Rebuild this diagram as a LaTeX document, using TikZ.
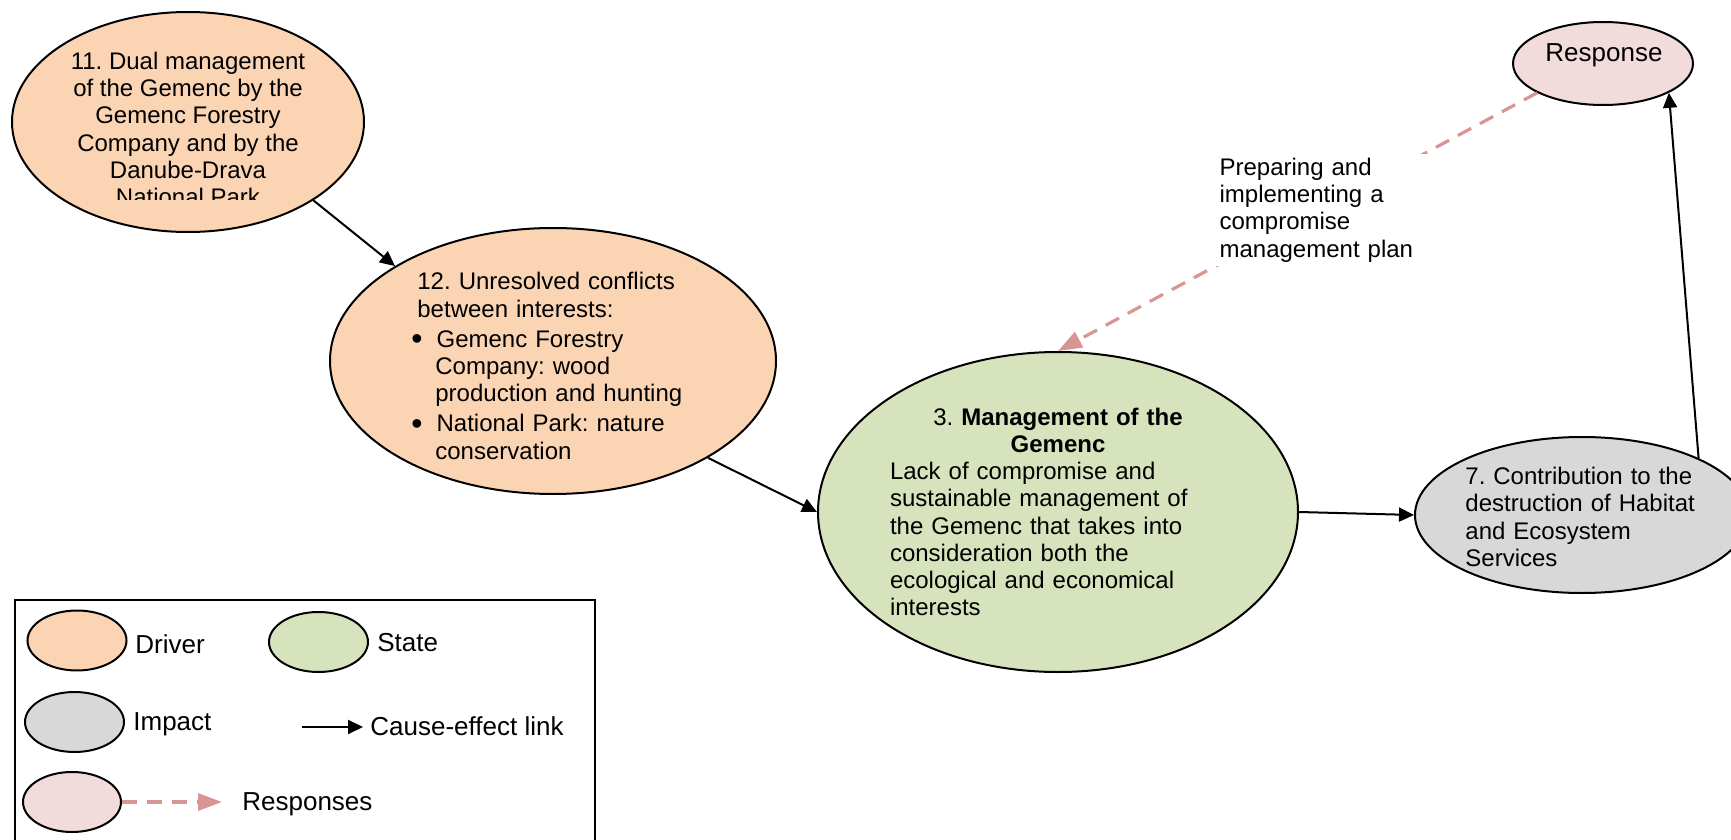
\documentclass[tikz,border=0pt]{standalone}
\usepackage{fontspec}
\setmainfont{Liberation Sans}
\usepackage{xcolor}
\usepackage{enumitem}
\usepackage{tikz}
\usetikzlibrary{positioning, arrows.meta, calc, shapes.geometric}
\definecolor{driverfill}{HTML}{FBD4B4}
\definecolor{statefill}{HTML}{D6E3BC}
\definecolor{impactfill}{HTML}{D8D8D8}
\definecolor{respfill}{HTML}{F2DBDB}
\definecolor{respline}{HTML}{D99594}
\frenchspacing

\tikzset{
    blob/.style={ellipse, draw, line width=1pt, inner sep=0pt},
    drivernode/.style={blob, fill=driverfill},
    statenode/.style={blob, fill=statefill},
    impactnode/.style={blob, fill=impactfill},
    responsenode/.style={blob, fill=respfill},
    body/.style={font=\fontsize{12}{13.6}\selectfont, inner sep=0pt},
    keytext/.style={font=\fontsize{13}{15}\selectfont, inner sep=0pt, anchor=base west},
    causes/.style={line width=1pt, -{Triangle[length=7.5pt, width=7pt]}},
    answers/.style={draw=respline, line width=1.6pt, dash pattern=on 7.5pt off 5pt,
        -{Triangle[length=12pt, width=8.5pt, fill=respline]}},
}

\begin{document}
\begin{tikzpicture}[x=0.5pt, y=-0.5pt]
    \useasboundingbox (0,0) rectangle (1731,840);

    % drivers
    \node[drivernode, minimum width=176pt, minimum height=110pt] (dual) at (188,122) {};
    \begin{scope}
        \clip (0,0) rectangle (400,200);
        \node[body, align=center] (dualtxt) at (188,129) {11. Dual management\\of the Gemenc by the\\Gemenc Forestry\\Company and by the\\Danube-Drava\\National Park};
    \end{scope}

    \node[drivernode, minimum width=223pt, minimum height=133pt] (conflict) at (553,361) {};
    \node[body, text width=140pt, align=left, anchor=west] (conflicttxt) at (411,366) {%
        \hspace*{3pt}12. Unresolved conflicts\\
        \hspace*{3pt}between interests:
        \begin{itemize}[label={\raisebox{-1.2pt}{\fontsize{16}{16}\selectfont\textbullet}}, leftmargin=12pt,
                        labelwidth=5pt, labelsep=7pt, align=left, topsep=1.5pt, itemsep=1.5pt, parsep=0pt,
                        partopsep=0pt]
            \item Gemenc Forestry\\Company: wood\\production and hunting
            \item National Park: nature\\conservation
        \end{itemize}};

    % state
    \node[statenode, minimum width=240pt, minimum height=160pt] (mgmt) at (1058,512) {};
    \node[body, text width=168pt, align=left] (mgmttxt) at (1058,512) {%
        {\centering 3. \textbf{Management of the}\\\textbf{Gemenc}\par}%
        Lack of compromise and\\sustainable management of\\the Gemenc that takes into\\consideration both the\\ecological and economical\\interests};

    % impact
    \node[impactnode, minimum width=167pt, minimum height=78pt] (habitat) at (1582,515) {};
    \node[body, text width=118pt, align=left, anchor=west] (habitattxt) at (1465,517) {7. Contribution to the\\destruction of Habitat\\and Ecosystem\\Services};

    % response
    \node[responsenode, minimum width=90pt, minimum height=41.5pt] (resp) at (1603,63.5) {};
    \node[font=\fontsize{13}{15}\selectfont, inner sep=0pt, anchor=base] (resptxt) at (1604,62) {Response};

    \draw[causes] (dual.-32) -- (conflict.149);
    \draw[causes] (conflict.-32) -- (mgmt.west);
    \draw[causes] (mgmt.east) -- (habitat.west);
    \draw[causes] (habitat.26) -- (resp.-24);
    \draw[answers] (resp.204) -- node[pos=0.454, body, fill=white, text width=100pt, align=left,
        inner xsep=4pt, inner ysep=2pt] (plan) {Preparing and\\implementing a\\compromise\\management plan} (mgmt.north);

    % legend
    \draw[line width=1pt] (15,600) rectangle (595,860);
    \node[drivernode, minimum width=49.5pt, minimum height=30pt] (keydriver) at (77,640.5) {};
    \node[keytext] (keydrivertxt) at (135,653) {Driver};
    \node[statenode, minimum width=49.5pt, minimum height=30pt] (keystate) at (318.5,642) {};
    \node[keytext] (keystatetxt) at (377,651) {State};
    \node[impactnode, minimum width=49.5pt, minimum height=30pt] (keyimpact) at (74.5,722) {};
    \node[keytext] (keyimpacttxt) at (133,730) {Impact};
    \coordinate (keyfrom) at (302,727);
    \node[keytext] (keycause) at (370,735) {Cause-effect link};
    \draw[causes, shorten >=3.5pt] (keyfrom) -- (keyfrom -| keycause.west);
    \node[responsenode, minimum width=49pt, minimum height=30pt] (keyresp) at (72,802) {};
    \node[keytext] (keyresptxt) at (242,810) {Responses};
    \draw[answers, shorten >=10pt] (keyresp.east) -- (keyresp.east -| keyresptxt.west);
\end{tikzpicture}
\end{document}
